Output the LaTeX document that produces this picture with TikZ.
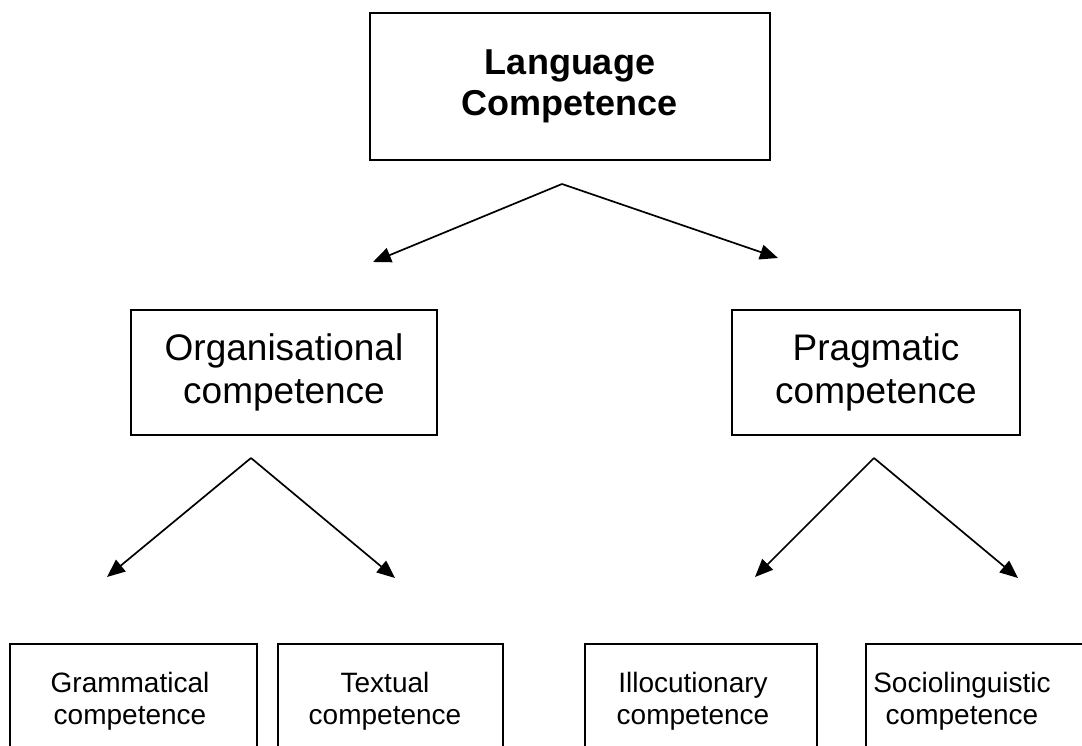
\documentclass[tikz,border=0pt]{standalone}
\usepackage{fontspec}
\setmainfont{Liberation Sans}
\usetikzlibrary{arrows.meta}
\begin{document}
\begin{tikzpicture}[x=1pt,y=-1pt,
  frame/.style={draw=black,line width=1.3pt},
  lbl/.style={align=center,inner sep=0pt},
  bigfont/.style={font=\fontsize{36}{41}\selectfont\bfseries},
  midfont/.style={font=\fontsize{37}{43}\selectfont},
  smallfont/.style={font=\fontsize{28}{32}\selectfont},
  fork/.style={line width=1.7pt,-{Triangle[length=18pt,width=15pt]}}]
\clip (0,0) rectangle (1082,746);
\fill[white] (0,0) rectangle (1082,746);

% top level
\node[frame,lbl,bigfont,minimum width=400pt,minimum height=147pt] (lang) at (570,86.5) {Language\\Competence};

% second level
\node[frame,lbl,midfont,minimum width=306pt,minimum height=125pt] (org) at (284,372.5) {Organisational\\competence};
\node[frame,lbl,midfont,minimum width=288pt,minimum height=125pt] (prag) at (876,372.5) {Pragmatic\\competence};

% third level: boxes run off the lower edge
\draw[frame] (10,760) |- (257,644) -- (257,760);
\draw[frame] (278,760) |- (503,644) -- (503,760);
\draw[frame] (585,760) |- (817,644) -- (817,760);
\draw[frame] (866,760) |- (1100,644);
\node[lbl,smallfont] (gram) at (130,701) {Grammatical\\competence};
\node[lbl,smallfont] (text) at (385,701) {Textual\\competence};
\node[lbl,smallfont] (illo) at (693,701) {Illocutionary\\competence};
\node[lbl,smallfont] (socio) at (962,701) {Sociolinguistic\\competence};

% forks
\coordinate (lang-fork) at (562,184);
\coordinate (org-tip) at (373,262);
\coordinate (prag-tip) at (778,258);
\coordinate (org-fork) at (251,458);
\coordinate (gram-tip) at (107,577);
\coordinate (text-tip) at (395,578);
\coordinate (prag-fork) at (874,458);
\coordinate (illo-tip) at (755,577);
\coordinate (socio-tip) at (1018,578);

\draw[fork] (lang-fork) -- (org-tip);
\draw[fork] (lang-fork) -- (prag-tip);
\draw[fork] (org-fork) -- (gram-tip);
\draw[fork] (org-fork) -- (text-tip);
\draw[fork] (prag-fork) -- (illo-tip);
\draw[fork] (prag-fork) -- (socio-tip);
\end{tikzpicture}
\end{document}
